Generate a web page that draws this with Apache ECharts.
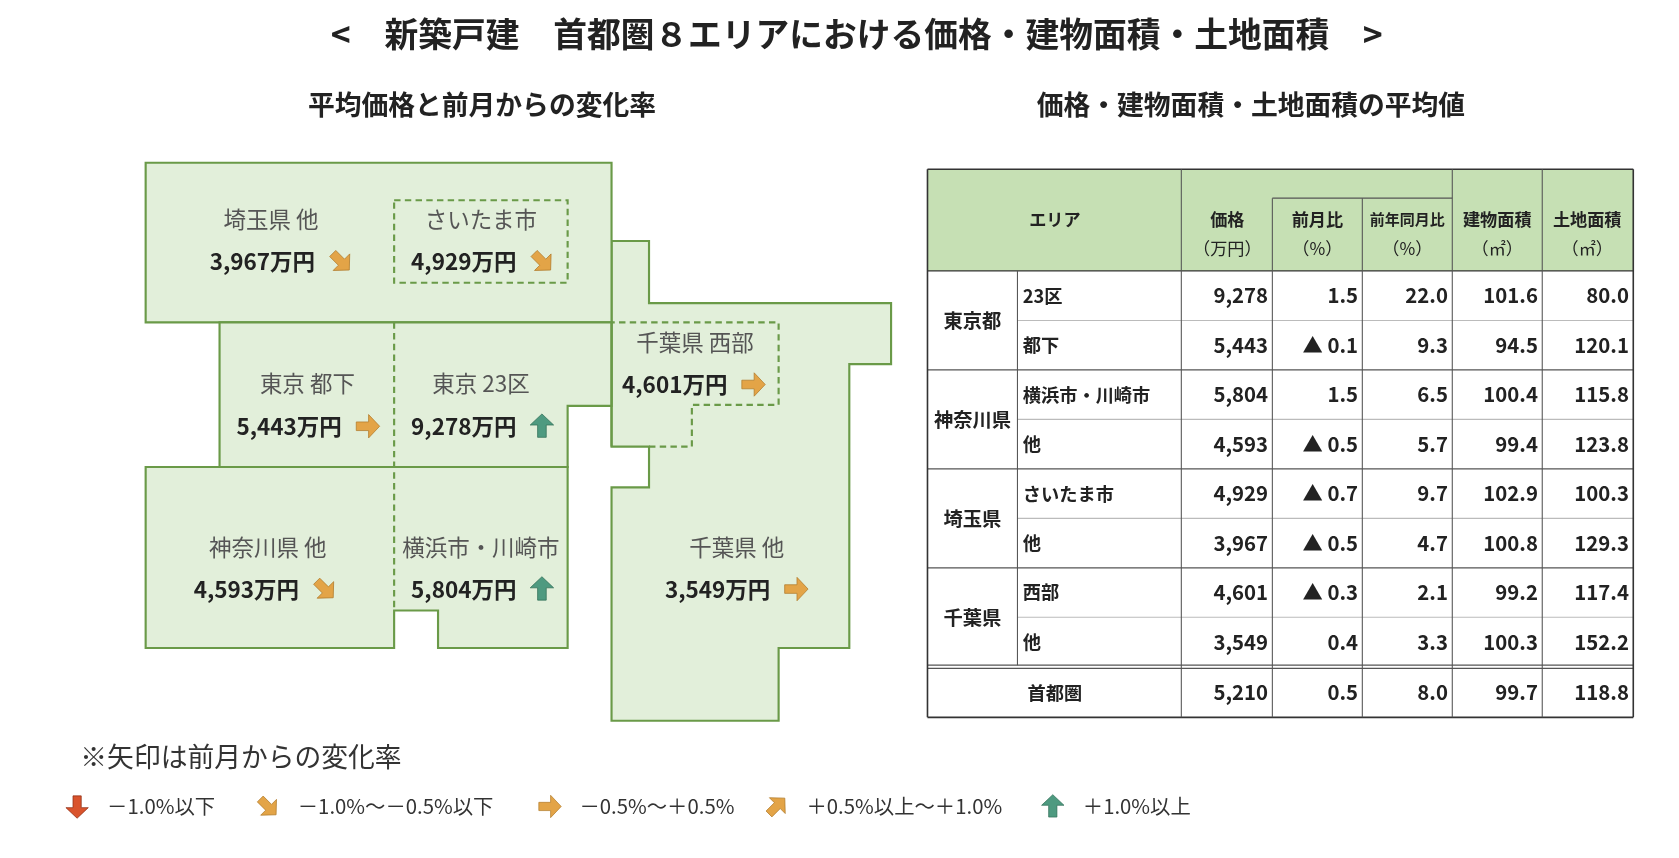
<!DOCTYPE html>
<html><head><meta charset="utf-8">
<script src="https://cdn.jsdelivr.net/npm/echarts@6/dist/echarts.min.js"></script>
<style>html,body{margin:0;padding:0;background:#fff}#c{width:1679px;height:858px}</style>
</head><body><div id="c"></div>
<script>
// ---- data ----
const prefs = ['東京都','神奈川県','埼玉県','千葉県'];
const areas = ['23区','都下','横浜市・川崎市','他','さいたま市','他','西部','他'];
const mapLabels = ['東京 23区','東京 都下','横浜市・川崎市','神奈川県 他','さいたま市','埼玉県 他','千葉県 西部','千葉県 他'];
const prices = [9278,5443,5804,4593,4929,3967,4601,3549];
const momChange = [1.5,-0.1,1.5,-0.5,-0.7,-0.5,-0.3,0.4];
const yoyChange = [22.0,9.3,6.5,5.7,9.7,4.7,2.1,3.3];
const buildingArea = [101.6,94.5,100.4,99.4,102.9,100.8,99.2,100.3];
const landArea = [80.0,120.1,115.8,123.8,100.3,129.3,117.4,152.2];
const totalRow = {name:'首都圏',price:5210,mom:0.5,yoy:8.0,building:99.7,land:118.8};
const legendLabels = ['－1.0%以下','－1.0%～－0.5%以下','－0.5%～＋0.5%','＋0.5%以上～＋1.0%','＋1.0%以上'];

// ---- layout (design coords) ----
const K = 1.071;
const FONT = '"Noto Sans CJK JP","Noto Sans",sans-serif';
const fill = '#e2efda', stroke = '#6a9a48';
const els = [];
function poly(pts, dashed, fillC){
  els.push({type:'polygon',shape:{points:pts},style:{fill:fillC===undefined?fill:fillC,stroke:stroke,lineWidth:2,lineDash:dashed?[6,4]:null}});
}
function line(x1,y1,x2,y2,c,w,dash){
  els.push({type:'line',shape:{x1,y1,x2,y2},style:{stroke:c,lineWidth:w,lineDash:dash||null}});
}
function text(x,y,t,o){
  o=o||{};
  els.push({type:'text',x,y,style:{text:t,fill:o.color||'#222',font:(o.weight||'normal')+' '+(o.size||18)+'px '+FONT,textAlign:o.align||'center',textVerticalAlign:'middle'}});
}
function arrowType(v){ if(v<=-1) return 0; if(v<=-0.5) return 1; if(v<0.5) return 2; if(v<1) return 3; return 4; }
const arrowRot=[-Math.PI/2,-Math.PI/4,0,Math.PI/4,Math.PI/2];
const arrowCol=['#d9532c','#e3a447','#e3a447','#e3a447','#4e9a80'];
function arrow(x,y,t,sc){
  els.push({type:'polygon',x,y,rotation:arrowRot[t],scaleX:sc||1,scaleY:sc||1,
    shape:{points:[[-9,-3.5],[1,-3.5],[1,-9.5],[10,0],[1,9.5],[1,3.5],[-9,3.5]]},
    style:{fill:arrowCol[t],stroke:t===0?'#8a2a10':(t===4?'#2f6e55':'#b07a2a'),lineWidth:0.6}});
}

// titles
text(800,32,'<　新築戸建　首都圏８エリアにおける価格・建物面積・土地面積　>',{size:31.5,weight:'bold'});
text(450,98,'平均価格と前月からの変化率',{size:25,weight:'bold'});
text(1168,98,'価格・建物面積・土地面積の平均値',{size:25,weight:'bold'});

// map shapes
poly([[571,225],[606,225],[606,283],[832,283],[832,340],[793,340],[793,605],[727,605],[727,673],[571,673],[571,455],[606,455],[606,417],[571,417]]);
poly([[136,152],[571,152],[571,301],[136,301]]);
poly([[205,301],[571,301],[571,379],[530,379],[530,436],[205,436]]);
poly([[136,436],[530,436],[530,605],[409,605],[409,570],[368,570],[368,605],[136,605]]);
line(571,301,571,417,stroke,2);
poly([[368,187],[530,187],[530,264],[368,264]],true,'rgba(0,0,0,0)');
line(368,301,368,570,stroke,2,[6,4]);
els.push({type:'polyline',shape:{points:[[606,417],[646,417],[646,378],[727,378],[727,301],[571,301]]},style:{stroke:stroke,lineWidth:2,lineDash:[6,4],fill:null}});

// map labels: order matches data arrays
const labelPos = [[449,358,433,398],[287,358,270,398],[449,511,433,550],[250,511,230,550],[449,205,433,244],[253,205,245,244],[649,320,630,359],[688,511,670,550]];
mapLabels.forEach((l,i)=>{
  const p=labelPos[i];
  text(p[0],p[1],l,{size:21,color:'#555'});
  text(p[2],p[3],prices[i].toLocaleString('en-US')+'万円',{size:21,weight:'bold'});
  arrow(p[2]+73,p[3],arrowType(momChange[i]),1.15);
});

// note & legend
text(75,707,'※矢印は前月からの変化率',{size:25,color:'#333',align:'left'});
const legX=[72,250,513,725,983];
legendLabels.forEach((l,i)=>{
  arrow(legX[i],753,i,1.1);
  text(legX[i]+28,753,l,{size:19,color:'#333',align:'left'});
});

// table
const TL=866,TR=1525,TT=158,HB=253,RH=46.2;
const cols=[866,950,1103,1188,1272,1356,1440,1525];
els.push({type:'rect',shape:{x:TL,y:TT,width:TR-TL,height:HB-TT},style:{fill:'#c6e0b4'}});
const rowY=i=>HB+RH*i;
const lastY=rowY(8), endY=lastY+RH+1;
line(TL,TT,TR,TT,'#333',1.5);
line(TL,HB,TR,HB,'#333',1.2);
for(let i=1;i<8;i++){ line(i%2===0?TL:cols[1],rowY(i),TR,rowY(i),i%2===0?'#555':'#bbb',i%2===0?1.2:1); }
line(TL,lastY-1.5,TR,lastY-1.5,'#555',1.2);
line(TL,lastY+1.5,TR,lastY+1.5,'#555',1.2);
line(TL,endY,TR,endY,'#333',1.5);
line(TL,TT,TL,endY,'#333',1.5);
line(TR,TT,TR,endY,'#333',1.5);
line(cols[1],HB,cols[1],lastY-1.5,'#555',1);
line(cols[2],TT,cols[2],endY,'#555',1);
line(cols[3],185,cols[3],endY,'#555',1);
line(cols[3],185,cols[5],185,'#555',1);
line(cols[4],185,cols[4],endY,'#555',1);
line(cols[5],TT,cols[5],endY,'#555',1);
line(cols[6],TT,cols[6],endY,'#555',1);
text(985,205,'エリア',{size:16,weight:'bold'});
text(1146,205,'価格',{size:16,weight:'bold'}); text(1146,232,'（万円）',{size:16});
text(1230,205,'前月比',{size:16,weight:'bold'}); text(1230,232,'（%）',{size:16});
text(1314,205,'前年同月比',{size:14,weight:'bold'}); text(1314,232,'（%）',{size:16});
text(1398,205,'建物面積',{size:16,weight:'bold'}); text(1398,232,'（㎡）',{size:16});
text(1482,205,'土地面積',{size:16,weight:'bold'}); text(1482,232,'（㎡）',{size:16});
const fmt=v=>v<0?'▲ '+Math.abs(v).toFixed(1):v.toFixed(1);
prefs.forEach((p,g)=>text(908,rowY(2*g+1),p,{size:18,weight:'bold'}));
const NUM={size:19,weight:'bold',align:'right',color:'#222'};
areas.forEach((a,i)=>{
  const y=rowY(i)+RH/2;
  text(955,y,a,{size:17,weight:'bold',align:'left'});
  text(cols[3]-4,y,prices[i].toLocaleString('en-US'),NUM);
  text(cols[4]-4,y,fmt(momChange[i]),NUM);
  text(cols[5]-4,y,yoyChange[i].toFixed(1),NUM);
  text(cols[6]-4,y,buildingArea[i].toFixed(1),NUM);
  text(cols[7]-4,y,landArea[i].toFixed(1),NUM);
});
{
  const y=lastY+RH/2+1;
  text(985,y,totalRow.name,{size:17,weight:'bold'});
  text(cols[3]-4,y,totalRow.price.toLocaleString('en-US'),NUM);
  text(cols[4]-4,y,fmt(totalRow.mom),NUM);
  text(cols[5]-4,y,totalRow.yoy.toFixed(1),NUM);
  text(cols[6]-4,y,totalRow.building.toFixed(1),NUM);
  text(cols[7]-4,y,totalRow.land.toFixed(1),NUM);
}

const chart = echarts.init(document.getElementById('c'));
chart.setOption({graphic:[{type:'group',scaleX:K,scaleY:K,children:els}]});
</script></body></html>
